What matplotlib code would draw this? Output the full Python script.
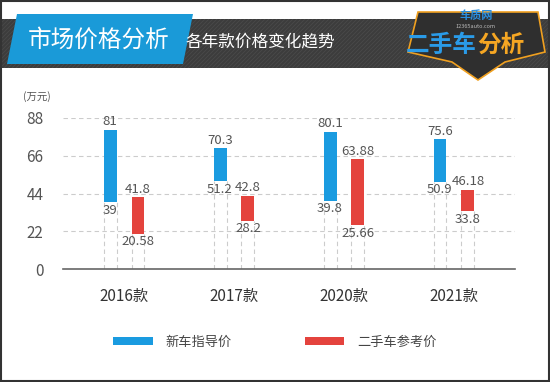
import matplotlib
matplotlib.use("Agg")
import matplotlib.pyplot as plt
from matplotlib.patches import Polygon, Rectangle

plt.rcParams['font.family'] = ['Noto Sans CJK SC', 'DejaVu Sans']

categories = ["2016款", "2017款", "2020款", "2021款"]
new_low = [39, 51.2, 39.8, 50.9]
new_high = [81, 70.3, 80.1, 75.6]
used_low = [20.58, 28.2, 25.66, 33.8]
used_high = [41.8, 42.8, 63.88, 46.18]
new_low_lbl = ["39", "51.2", "39.8", "50.9"]
new_high_lbl = ["81", "70.3", "80.1", "75.6"]
used_low_lbl = ["20.58", "28.2", "25.66", "33.8"]
used_high_lbl = ["41.8", "42.8", "63.88", "46.18"]
yticks = [0, 22, 44, 66, 88]
series_names = ["新车指导价", "二手车参考价"]

BLUE = "#1a9be0"
RED = "#e4433d"
TXT = "#555555"

W, H = 550, 382
fig = plt.figure(figsize=(W / 100, H / 100), dpi=100)
fig.patch.set_facecolor("white")

# overlay for header / frame in pixel coords
ov = fig.add_axes([0, 0, 1, 1])
ov.set_xlim(0, W)
ov.set_ylim(H, 0)
ov.axis("off")
ov.set_zorder(0)

# header dark band
ov.add_patch(Rectangle((2, 19), W - 4, 49, facecolor="#3c3c3c", edgecolor="none"))
for xs in range(-60, W, 4):
    ov.plot([xs, xs + 49], [68, 19], color="#4a4a4a", lw=0.6, zorder=1)
ov.add_patch(Rectangle((0, 0), W, 19, facecolor="white", edgecolor="none", zorder=1.5))
ov.add_patch(Rectangle((0, 68), W, 20, facecolor="white", edgecolor="none", zorder=1.5))
# blue parallelogram
ov.add_patch(Polygon([(17, 14), (193, 14), (183, 64), (7, 64)], closed=True,
                     facecolor="#1a9ad8", edgecolor="none", zorder=2))
ov.text(99, 40, "市场价格分析", color="white", fontsize=17, ha="center", va="center", zorder=3)
ov.text(186, 42, "各年款价格变化趋势", color="white", fontsize=12, ha="left", va="center", zorder=3)

# logo
ov.add_patch(Polygon([(418, 12), (538, 12), (545, 52), (505, 62), (478, 80), (452, 62), (408, 52)],
                     closed=True, facecolor="#2f2f2f", edgecolor="#f0a020", lw=1.2, zorder=2))
ov.text(476, 16, "车质网", color="#2a8fe0", fontsize=8, fontweight="bold", ha="center", va="center", zorder=3)
ov.text(476, 26, "12365auto.com", color="#bbbbbb", fontsize=4, ha="center", va="center", zorder=3)
ov.text(441, 45, "二手车", color="#2a9be8", fontsize=17, fontweight="bold",
        ha="center", va="center", zorder=3)
ov.text(501, 45, "分析", color="#f5a623", fontsize=17, fontweight="bold",
        ha="center", va="center", zorder=3)

# frame
ov.add_patch(Rectangle((0.5, 0.5), W - 1.5, H - 1.5, facecolor="none", edgecolor="#333333", lw=1.5, zorder=5))

# main chart axes: x 63..515, y 118..269 pixels
ax = fig.add_axes([63 / W, 1 - 269 / H, (515 - 63) / W, (269 - 118) / H])
ax.set_zorder(2)
ax.patch.set_alpha(0)
x = list(range(len(categories)))
off = 0.127
bw = 0.118
ax.set_xlim(-0.555, 3.555)
ax.set_ylim(0, 88)

for yv in yticks[1:]:
    ax.axhline(yv, color="#cccccc", lw=0.8, ls=(0, (4, 3)), zorder=0)

nb = ax.bar([i - off for i in x], [h - l for h, l in zip(new_high, new_low)], bottom=new_low,
            width=bw, color=BLUE, zorder=3, label=series_names[0])
ub = ax.bar([i + off for i in x], [h - l for h, l in zip(used_high, used_low)], bottom=used_low,
            width=bw, color=RED, zorder=3, label=series_names[1])

for i in x:
    for c, lo in ((i - off, new_low[i]), (i + off, used_low[i])):
        for e in (c - bw / 2, c + bw / 2):
            ax.plot([e, e], [0, lo], color="#cccccc", lw=0.8, ls=(0, (4, 3)), zorder=1)
    ax.text(i - off, new_high[i] + 1, new_high_lbl[i], ha="center", va="bottom", fontsize=9.5, color=TXT)
    ax.text(i - off, new_low[i] - 1, new_low_lbl[i], ha="center", va="top", fontsize=9.5, color=TXT)
    ax.text(i + off, used_high[i] + 1, used_high_lbl[i], ha="center", va="bottom", fontsize=9.5, color=TXT)
    ax.text(i + off, used_low[i] - 1, used_low_lbl[i], ha="center", va="top", fontsize=9.5, color=TXT)

for s in ("top", "right", "left"):
    ax.spines[s].set_visible(False)
ax.spines["bottom"].set_color("#666666")
ax.spines["bottom"].set_linewidth(1.2)
ax.set_yticks(yticks)
ax.set_yticklabels([str(v) for v in yticks])
ax.tick_params(axis="y", length=0, labelsize=11, labelcolor=TXT, pad=14)
ax.set_xticks(x)
ax.set_xticklabels(categories)
ax.tick_params(axis="x", length=0, labelsize=11, labelcolor="#333333", pad=14)

fig.text(37 / W, 1 - 97 / H, "(万元)", fontsize=7.5, color=TXT, ha="center", va="center")

leg = fig.legend(handles=[nb, ub], labels=series_names, loc="center", bbox_to_anchor=(0.5, 1 - 342 / H),
                 ncol=2, frameon=False, fontsize=9.5, handlelength=3.0, handleheight=0.5,
                 columnspacing=5.5, handletextpad=1.0, labelcolor="#444444")

fig.savefig("out.png", dpi=100)
